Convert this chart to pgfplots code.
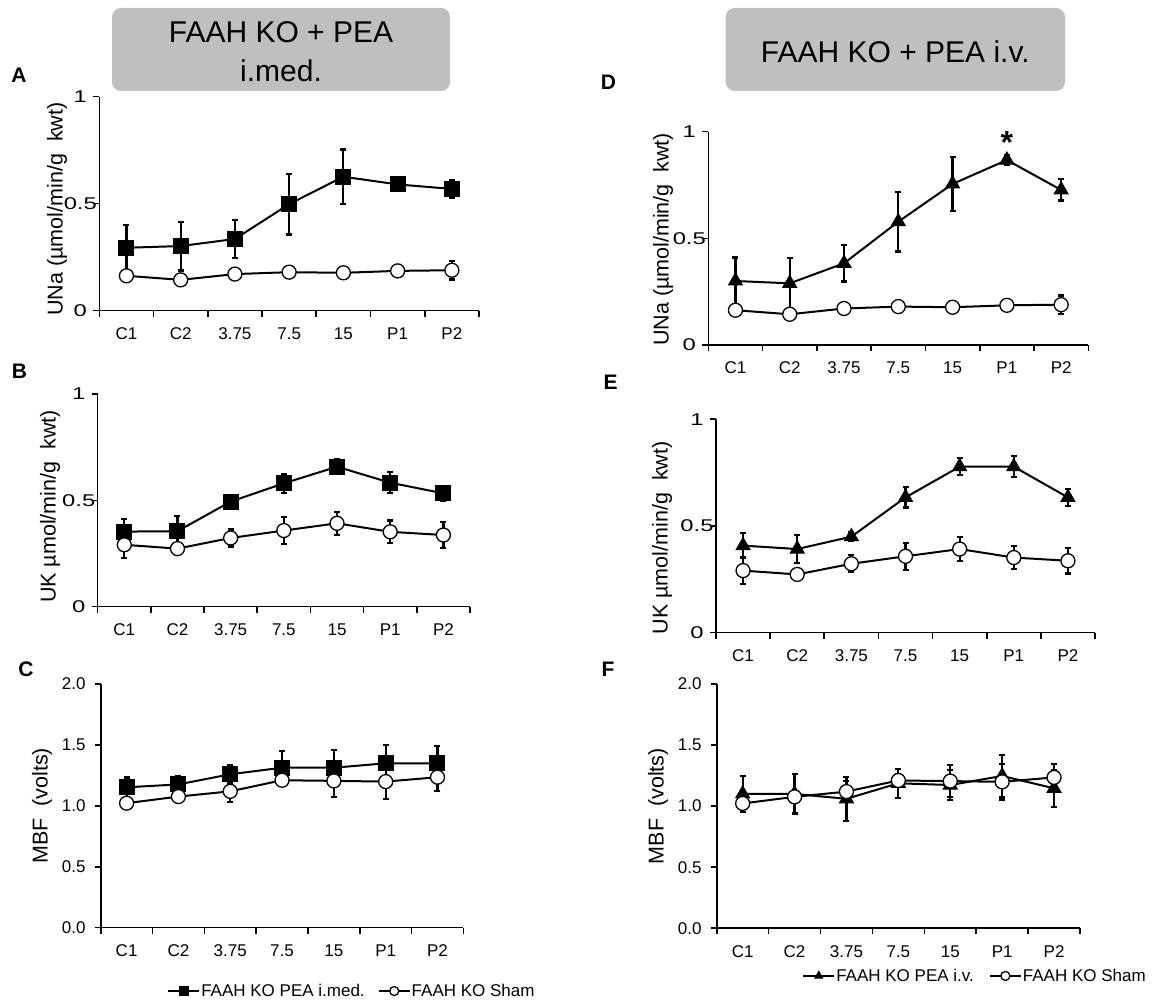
\documentclass[border=0pt]{standalone}
\usepackage{pgfplots}
\pgfplotsset{compat=1.18}
\usepackage{fontspec}
\setmainfont{Liberation Sans}

\newcommand\tickfont{\fontsize{17}{20}\selectfont}
\newcommand\labfont{\fontsize{21.5}{25}\selectfont}
\newcommand\titlefont{\fontsize{30}{36}\selectfont}
\newcommand\letterfont{\fontsize{21}{25}\selectfont\bfseries}

\pgfplotsset{
  panel/.style={
    scale only axis,
    axis x line*=bottom, axis y line*=left,
    axis line style={line width=1.6pt, -},
    tick align=outside,
    major tick length=6pt,
    every tick/.style={black, line width=1.6pt},
    xmin=0, xmax=7,
    xtick={0,...,7},
    xticklabels={C1,C2,3.75,7.5,15,P1,P2},
    x tick label as interval,
    tick label style={font=\tickfont},
    xticklabel style={anchor=base, yshift=-23pt},
    ylabel style={font=\labfont, anchor=center},
    clip=false,
  },
  errs/.style={
    error bars/y dir=both, error bars/y explicit,
    error bars/error bar style={line width=2.2pt, black},
    error bars/error mark options={rotate=90, mark size=3pt, line width=2.2pt, black},
  },
  treat/.style={black, line width=2pt, mark options={solid, fill=black, line width=1pt}, errs},
  sham/.style={black, line width=2pt, mark=*, mark size=7pt, mark options={solid, fill=white, line width=1.3pt}, errs},
  small legend/.style={
    legend style={draw=none, fill=none, font=\tickfont, legend columns=2, inner sep=0pt,
      nodes={inner sep=1pt}},
    legend cell align=left,
    legend image code/.code={\draw[mark repeat=2, mark phase=2, ##1] plot coordinates {(0pt,0pt) (15.5pt,0pt) (31pt,0pt)};},
    legend image post style={mark size=4.5pt},
  },
}

\begin{document}
\begin{tikzpicture}[x=1pt, y=1pt]
\useasboundingbox (0,0) rectangle (1157,1000);

% headers
\fill[gray!50, rounded corners=9pt] (112,909) rectangle (450,992);
\node[anchor=base, font=\titlefont, inner sep=0pt] at (281,957) {FAAH KO + PEA};
\node[anchor=base, font=\titlefont, inner sep=0pt] at (281,918.3) {i.med.};
\fill[gray!50, rounded corners=9pt] (725.7,909) rectangle (1065,992);
\node[anchor=base, font=\titlefont, inner sep=0pt] at (895.3,937.3) {FAAH KO + PEA i.v.};

% panel letters
\node[font=\letterfont, inner sep=0pt] at (19,924.5) {A};
\node[font=\letterfont, inner sep=0pt] at (19.5,628.5) {B};
\node[font=\letterfont, inner sep=0pt] at (26,331) {C};
\node[font=\letterfont, inner sep=0pt] at (608.5,917.5) {D};
\node[font=\letterfont, inner sep=0pt] at (610.5,618) {E};
\node[font=\letterfont, inner sep=0pt] at (608,331) {F};

% A: UNa, intramedullary PEA
\begin{axis}[panel, at={(99.3pt,689.3pt)}, anchor=south west, width=379.7pt, height=214pt,
  ymin=0, ymax=1, ytick={0,0.5,1}, yticklabels={0,0.5,1},
  yticklabel style={anchor=center, xshift=-13pt, xscale=1.4},
  ylabel={UNa (µmol/min/g~ kwt)}, ylabel style={at={(axis description cs:-0.1114,0.475)}}]
\addplot[treat, mark=square*, mark size=7.5pt] coordinates {
  (0.5,0.294) +- (0,0.105) (1.5,0.302) +- (0,0.114) (2.5,0.335) +- (0,0.090)
  (3.5,0.498) +- (0,0.142) (4.5,0.626) +- (0,0.127) (5.5,0.590) +- (0,0.015)
  (6.5,0.569) +- (0,0.040)};
\addplot[sham] coordinates {
  (0.5,0.163) +- (0,0.010) (1.5,0.144) +- (0,0.010) (2.5,0.171) +- (0,0.010)
  (3.5,0.180) +- (0,0.010) (4.5,0.177) +- (0,0.010) (5.5,0.186) +- (0,0.010)
  (6.5,0.189) +- (0,0.043)};
\end{axis}

% B: UK, intramedullary PEA
\begin{axis}[panel, at={(97.7pt,393.3pt)}, anchor=south west, width=372.3pt, height=212.7pt,
  ymin=0, ymax=1, ytick={0,0.5,1}, yticklabels={0,0.5,1},
  yticklabel style={anchor=center, xshift=-13pt, xscale=1.4},
  ylabel={UK µmol/min/g~ kwt)}, ylabel style={at={(axis description cs:-0.128,0.471)}}]
\addplot[treat, mark=square*, mark size=7.5pt] coordinates {
  (0.5,0.353) +- (0,0.060) (1.5,0.355) +- (0,0.073) (2.5,0.494) +- (0,0.015)
  (3.5,0.580) +- (0,0.045) (4.5,0.658) +- (0,0.035) (5.5,0.583) +- (0,0.050)
  (6.5,0.533) +- (0,0.035)};
\addplot[sham] coordinates {
  (0.5,0.291) +- (0,0.063) (1.5,0.273) +- (0,0.010) (2.5,0.323) +- (0,0.040)
  (3.5,0.358) +- (0,0.063) (4.5,0.392) +- (0,0.055) (5.5,0.352) +- (0,0.053)
  (6.5,0.337) +- (0,0.060)};
\end{axis}

% C: MBF, intramedullary PEA
\begin{axis}[panel, small legend, at={(100.7pt,72.3pt)}, anchor=south west, width=362.7pt, height=243.7pt,
  ymin=0, ymax=2, ytick={0,0.5,...,2}, yticklabels={0.0,0.5,1.0,1.5,2.0},
  yticklabel style={anchor=center, xshift=-21pt},
  ylabel={MBF~ (volts)}, ylabel style={at={(axis description cs:-0.162,0.5)}},
  legend style={at={(axis description cs:0.183,-0.26)}, anchor=west,
    /tikz/every even column/.append style={column sep=12pt}}]
\addplot[treat, mark=square*, mark size=7.5pt] coordinates {
  (0.5,1.152) +- (0,0.080) (1.5,1.176) +- (0,0.070) (2.5,1.259) +- (0,0.075)
  (3.5,1.313) +- (0,0.140) (4.5,1.313) +- (0,0.145) (5.5,1.349) +- (0,0.150)
  (6.5,1.349) +- (0,0.145)};
\addlegendentry{FAAH KO PEA i.med.}
\addplot[sham] coordinates {
  (0.5,1.022) +- (0,0.030) (1.5,1.076) +- (0,0.030) (2.5,1.119) +- (0,0.085)
  (3.5,1.210) +- (0,0.050) (4.5,1.205) +- (0,0.130) (5.5,1.199) +- (0,0.145)
  (6.5,1.235) +- (0,0.110)};
\addlegendentry{FAAH KO Sham}
\end{axis}

% D: UNa, intravenous PEA
\begin{axis}[panel, at={(708.3pt,655pt)}, anchor=south west, width=380pt, height=213.3pt,
  ymin=0, ymax=1, ytick={0,0.5,1}, yticklabels={0,0.5,1},
  yticklabel style={anchor=center, xshift=-13pt, xscale=1.4},
  ylabel={UNa (µmol/min/g~ kwt)}, ylabel style={at={(axis description cs:-0.119,0.495)}}]
\addplot[treat, mark=triangle*, mark size=8pt] coordinates {
  (0.5,0.300) +- (0,0.110) (1.5,0.289) +- (0,0.120) (2.5,0.383) +- (0,0.085)
  (3.5,0.578) +- (0,0.140) (4.5,0.755) +- (0,0.127) (5.5,0.867) +- (0,0.025)
  (6.5,0.727) +- (0,0.050)};
\addplot[sham] coordinates {
  (0.5,0.163) +- (0,0.010) (1.5,0.144) +- (0,0.010) (2.5,0.171) +- (0,0.010)
  (3.5,0.180) +- (0,0.010) (4.5,0.177) +- (0,0.010) (5.5,0.186) +- (0,0.010)
  (6.5,0.189) +- (0,0.043)};
\node[anchor=base, font=\fontsize{32}{36}\selectfont\bfseries, inner sep=0pt] at (axis cs:5.5,0.9) {*};
\end{axis}

% E: UK, intravenous PEA
\begin{axis}[panel, at={(716pt,367.3pt)}, anchor=south west, width=379pt, height=213.4pt,
  ymin=0, ymax=1, ytick={0,0.5,1}, yticklabels={0,0.5,1},
  yticklabel style={anchor=center, xshift=-13pt, xscale=1.4},
  ylabel={UK µmol/min/g~ kwt)}, ylabel style={at={(axis description cs:-0.1425,0.444)}}]
\addplot[treat, mark=triangle*, mark size=8pt] coordinates {
  (0.5,0.408) +- (0,0.058) (1.5,0.392) +- (0,0.065) (2.5,0.450) +- (0,0.020)
  (3.5,0.634) +- (0,0.047) (4.5,0.778) +- (0,0.040) (5.5,0.778) +- (0,0.050)
  (6.5,0.634) +- (0,0.040)};
\addplot[sham] coordinates {
  (0.5,0.291) +- (0,0.063) (1.5,0.273) +- (0,0.010) (2.5,0.323) +- (0,0.040)
  (3.5,0.358) +- (0,0.063) (4.5,0.392) +- (0,0.055) (5.5,0.352) +- (0,0.053)
  (6.5,0.337) +- (0,0.060)};
\end{axis}

% F: MBF, intravenous PEA
\begin{axis}[panel, small legend, at={(716.7pt,71.7pt)}, anchor=south west, width=363.3pt, height=244.3pt,
  ymin=0, ymax=2, ytick={0,0.5,...,2}, yticklabels={0.0,0.5,1.0,1.5,2.0},
  yticklabel style={anchor=center, xshift=-21pt},
  ylabel={MBF~ (volts)}, ylabel style={at={(axis description cs:-0.1616,0.5)}},
  legend style={at={(axis description cs:0.235,-0.195)}, anchor=west,
    /tikz/every even column/.append style={column sep=14pt}}]
\addplot[treat, mark=triangle*, mark size=8pt] coordinates {
  (0.5,1.100) +- (0,0.150) (1.5,1.100) +- (0,0.160) (2.5,1.060) +- (0,0.180)
  (3.5,1.187) +- (0,0.120) (4.5,1.173) +- (0,0.120) (5.5,1.247) +- (0,0.170)
  (6.5,1.146) +- (0,0.150)};
\addlegendentry{FAAH KO PEA i.v.}
\addplot[sham] coordinates {
  (0.5,1.022) +- (0,0.030) (1.5,1.076) +- (0,0.030) (2.5,1.119) +- (0,0.085)
  (3.5,1.210) +- (0,0.050) (4.5,1.205) +- (0,0.130) (5.5,1.199) +- (0,0.145)
  (6.5,1.235) +- (0,0.110)};
\addlegendentry{FAAH KO Sham}
\end{axis}
\end{tikzpicture}
\end{document}
